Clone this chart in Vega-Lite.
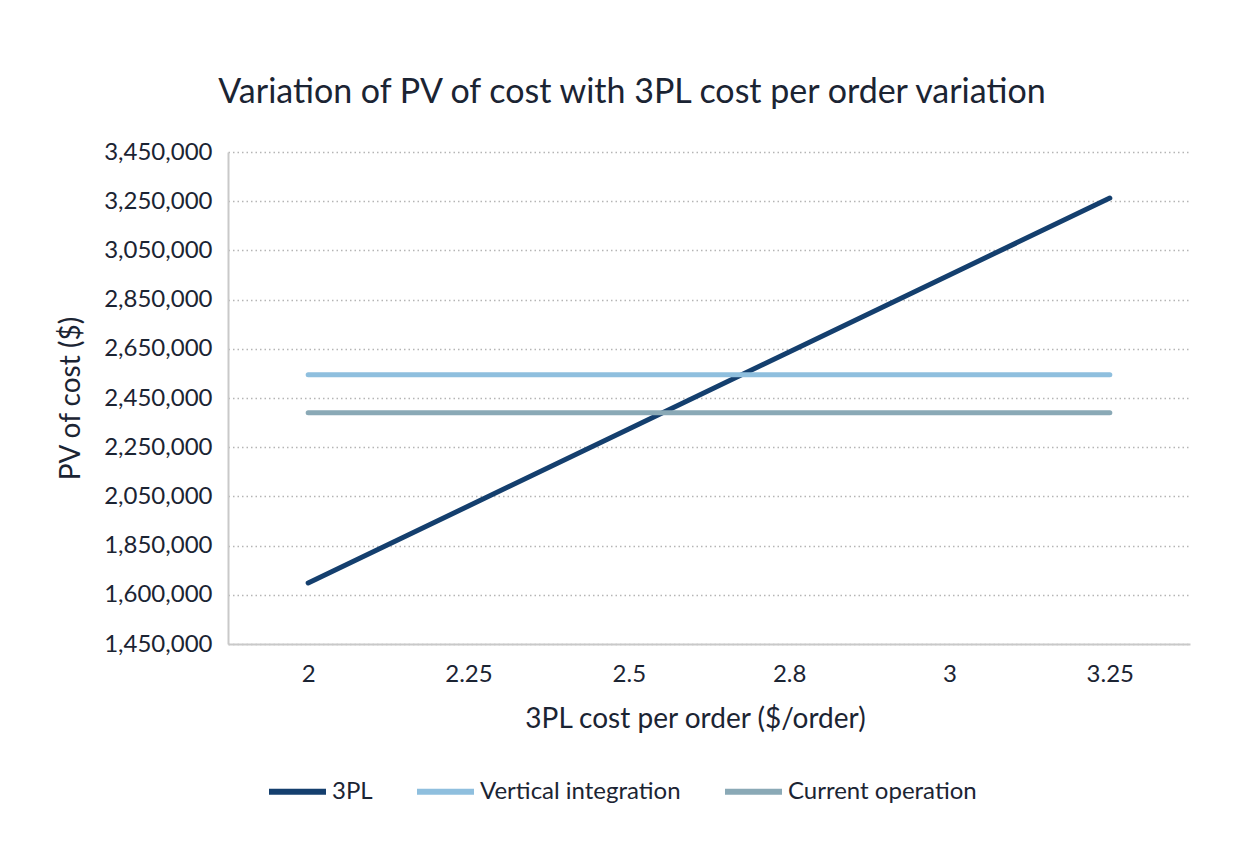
{
  "$schema": "https://vega.github.io/schema/vega-lite/v6.json",
  "autosize": {"type": "none"},
  "width": 962,
  "height": 492,
  "padding": {"left": 228, "top": 152, "right": 68, "bottom": 204},
  "background": "#ffffff",
  "title": {
    "text": "Variation of PV of cost with 3PL cost per order variation",
    "font": "Lato",
    "fontSize": 34,
    "fontWeight": "normal",
    "color": "#1b2433",
    "anchor": "middle",
    "dx": -77,
    "offset": 30
  },
  "data": {
    "values": [
      {"cost": "2", "series": "3PL", "pv": 1698000},
      {"cost": "2.25", "series": "3PL", "pv": 2011000},
      {"cost": "2.5", "series": "3PL", "pv": 2324000},
      {"cost": "2.8", "series": "3PL", "pv": 2637000},
      {"cost": "3", "series": "3PL", "pv": 2950000},
      {"cost": "3.25", "series": "3PL", "pv": 3263000},
      {"cost": "2", "series": "Vertical integration", "pv": 2545000},
      {"cost": "2.25", "series": "Vertical integration", "pv": 2545000},
      {"cost": "2.5", "series": "Vertical integration", "pv": 2545000},
      {"cost": "2.8", "series": "Vertical integration", "pv": 2545000},
      {"cost": "3", "series": "Vertical integration", "pv": 2545000},
      {"cost": "3.25", "series": "Vertical integration", "pv": 2545000},
      {"cost": "2", "series": "Current operation", "pv": 2390000},
      {"cost": "2.25", "series": "Current operation", "pv": 2390000},
      {"cost": "2.5", "series": "Current operation", "pv": 2390000},
      {"cost": "2.8", "series": "Current operation", "pv": 2390000},
      {"cost": "3", "series": "Current operation", "pv": 2390000},
      {"cost": "3.25", "series": "Current operation", "pv": 2390000}
    ]
  },
  "mark": {"type": "line", "strokeWidth": 5, "strokeCap": "round", "strokeJoin": "round"},
  "encoding": {
    "x": {
      "field": "cost",
      "type": "ordinal",
      "sort": ["2", "2.25", "2.5", "2.8", "3", "3.25"],
      "scale": {"type": "point", "padding": 0.5},
      "axis": {
        "title": "3PL cost per order ($/order)",
        "titleX": 467,
        "titleY": 75,
        "titleBaseline": "middle",
        "titleAlign": "center",
        "labelAngle": 0,
        "labelPadding": 18,
        "ticks": false,
        "grid": false,
        "domainColor": "#c9c9c9",
        "domainWidth": 2
      }
    },
    "y": {
      "field": "pv",
      "type": "quantitative",
      "scale": {"domain": [1450000, 3450000], "nice": false, "zero": false},
      "axis": {
        "title": "PV of cost ($)",
        "titleX": -157,
        "titleY": 246,
        "titleAngle": -90,
        "titleAlign": "center",
        "titleBaseline": "middle",
        "values": [1450000, 1650000, 1850000, 2050000, 2250000, 2450000, 2650000, 2850000, 3050000, 3250000, 3450000],
        "labelExpr": "datum.value == 1650000 ? '1,600,000' : format(datum.value, ',')",
        "labelPadding": 16,
        "ticks": false,
        "grid": true,
        "gridColor": "#b5b5b5",
        "gridDash": [1.5, 3],
        "gridWidth": 1.5,
        "domainColor": "#c9c9c9",
        "domainWidth": 2
      }
    },
    "color": {
      "field": "series",
      "type": "nominal",
      "scale": {
        "domain": ["3PL", "Vertical integration", "Current operation"],
        "range": ["#143f6e", "#8fbfde", "#8aa9b6"]
      },
      "legend": {
        "title": null,
        "orient": "none",
        "direction": "horizontal",
        "legendX": 38,
        "legendY": 608,
        "symbolType": "stroke",
        "symbolSize": 3249,
        "symbolStrokeWidth": 6,
        "labelOffset": 3,
        "columnPadding": 32,
        "labelFontSize": 24,
        "labelLimit": 0,
        "labelFont": "Lato",
        "labelColor": "#1b2433"
      }
    }
  },
  "config": {
    "font": "Lato",
    "axis": {
      "labelFont": "Lato",
      "labelFontSize": 24,
      "labelColor": "#1b2433",
      "titleFont": "Lato",
      "titleFontSize": 28,
      "titleFontWeight": "normal",
      "titleColor": "#1b2433"
    },
    "view": {"stroke": null}
  }
}
